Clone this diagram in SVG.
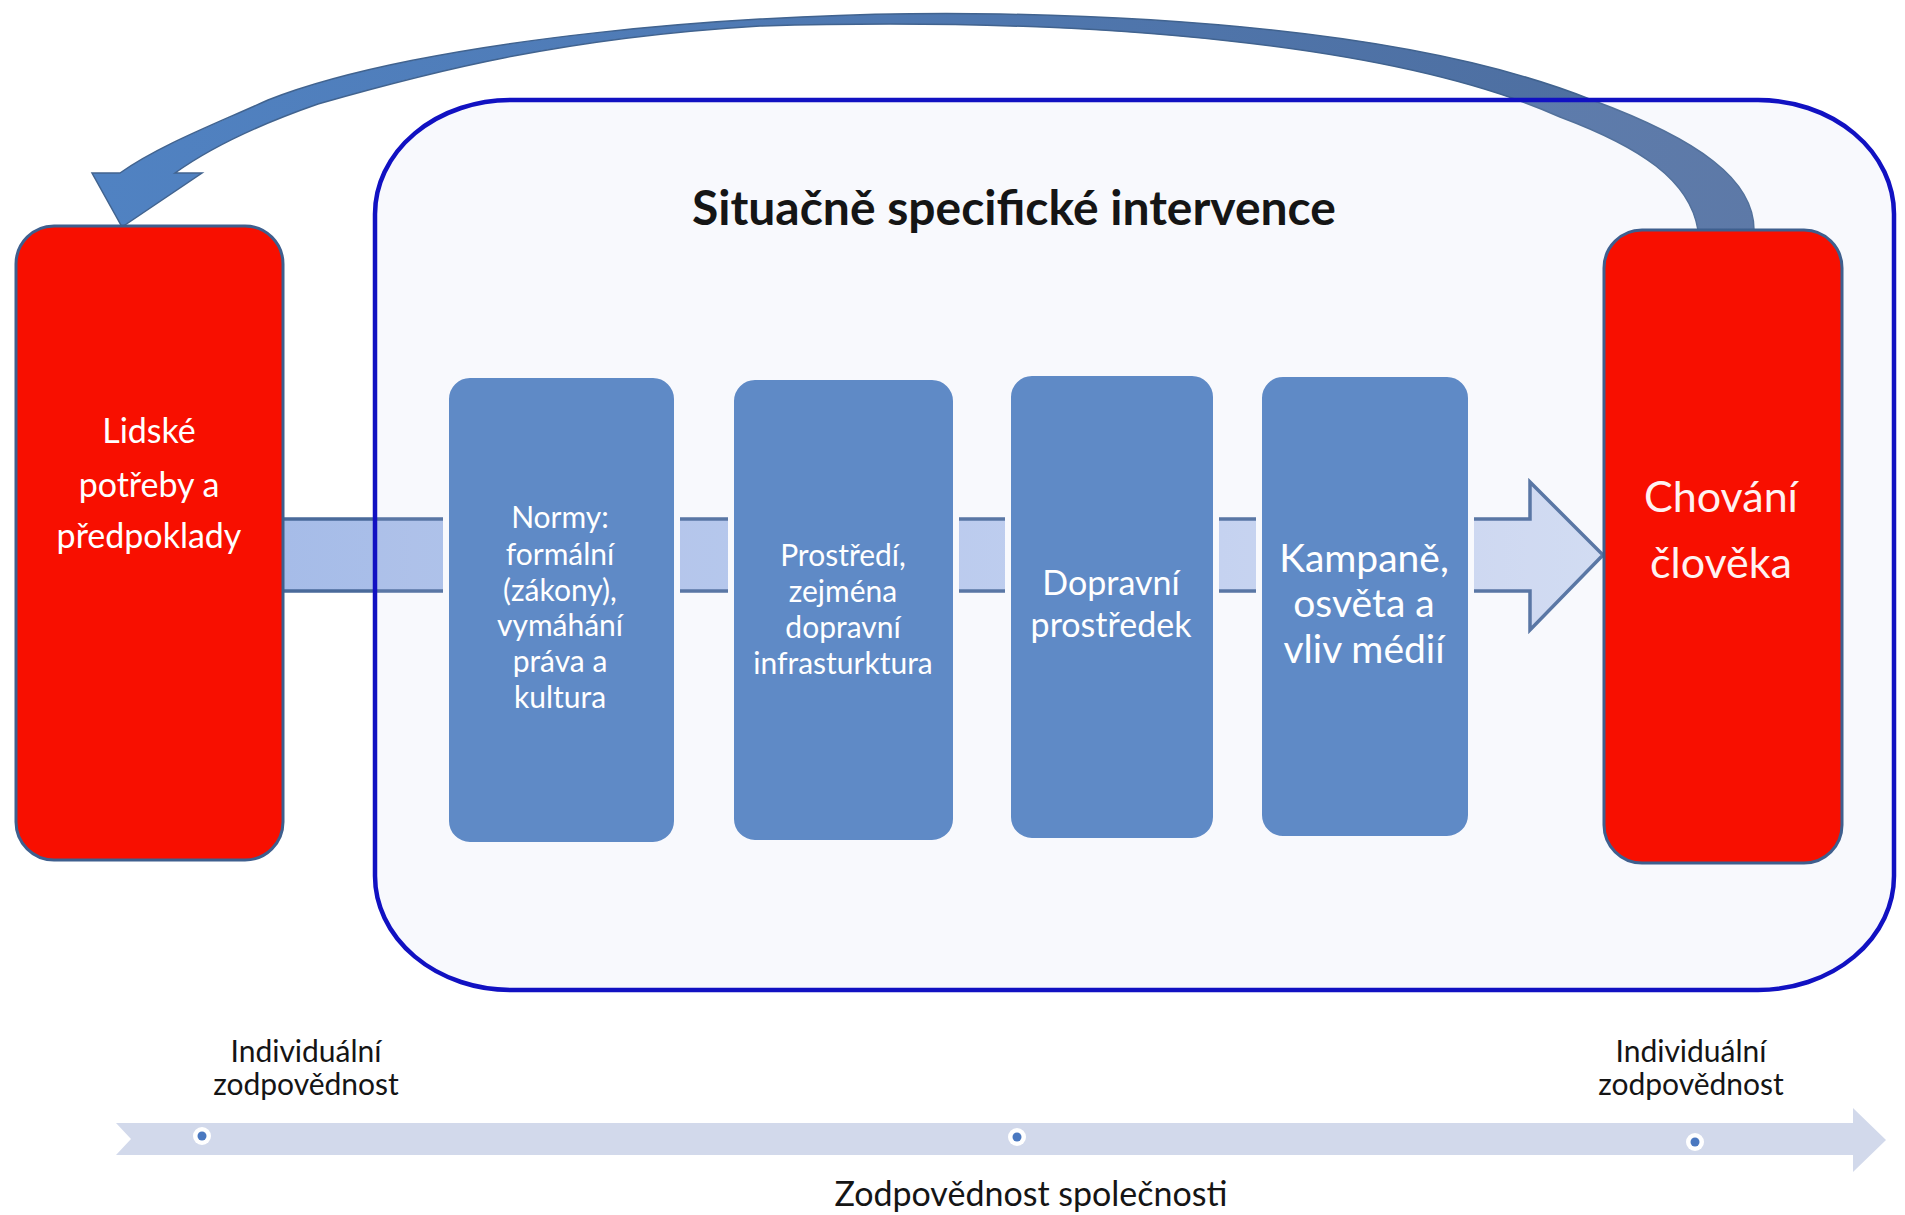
<svg xmlns="http://www.w3.org/2000/svg" width="1905" height="1215" viewBox="0 0 1905 1215">
  <defs>
    <linearGradient id="bandGrad" gradientUnits="userSpaceOnUse" x1="282" y1="0" x2="1603" y2="0">
      <stop offset="0" stop-color="#A6BCE8"/>
      <stop offset="0.5" stop-color="#BACBEE"/>
      <stop offset="1" stop-color="#D4DEF3"/>
    </linearGradient>
    <linearGradient id="curveGrad" gradientUnits="userSpaceOnUse" x1="100" y1="0" x2="1760" y2="0">
      <stop offset="0" stop-color="#5082C2"/>
      <stop offset="1" stop-color="#4E6D9D"/>
    </linearGradient>
  </defs>
  <style>
    .red { fill: #F80F00; stroke: #3E5F8E; stroke-width: 3; }
    .blue { fill: #5F8AC6; stroke: #F8F9FD; stroke-width: 6; }
    .txt { font-family: Lato, "Liberation Sans", sans-serif; text-anchor: middle; }
    .wt { fill: #FFFFFF; }
    .pk { fill: #FFF2F2; }
    .dk { fill: #151515; }
    .dotO { fill: #FFFFFF; }
    .dotI { fill: #4A78C0; }
  </style>
  <rect x="0" y="0" width="1905" height="1215" fill="#FFFFFF"/>

  <g id="connectors">
    <path id="feedback-arrow" fill="url(#curveGrad)" stroke="#41638F" stroke-width="1.5" stroke-linejoin="miter"
      d="M 1754,230 C 1754,180 1700,140 1592,100 C 1480,55 1300,20 1000,14 C 750,9 420,40 268,100 C 215,124 160,145 120,173 L 92,173 L 122,227 L 202,173 L 175,173 C 207,150 252,127 318,104 C 430,72 560,38 760,26 C 1100,16 1400,45 1560,117 C 1640,147 1690,180 1698,230 Z"/>
    <path id="flow-arrow" fill="url(#bandGrad)" stroke="#4A6A9A" stroke-width="3.5" stroke-linejoin="miter"
      d="M 270,519 H 1530 V 482 L 1603,555 L 1530,630 V 591 H 270 Z"/>
  </g>

  <g id="container">
    <rect x="375" y="100" width="1519" height="890" rx="136" ry="114" fill="#C8D2EE" fill-opacity="0.13" stroke="#1111C2" stroke-width="4.5"/>
    <text class="txt dk" x="1014" y="225" font-size="48" font-weight="bold">Situačně specifické intervence</text>
  </g>

  <g id="node-lidske">
    <rect class="red" x="16" y="226" width="267" height="634" rx="38" ry="38"/>
    <text class="txt wt" x="149" y="443" font-size="34">Lidské</text>
    <text class="txt wt" x="149" y="497" font-size="34">potřeby a</text>
    <text class="txt wt" x="149" y="548" font-size="34">předpoklady</text>
  </g>

  <g id="node-normy">
    <rect class="blue" x="446" y="375" width="231" height="470" rx="24" ry="24"/>
    <text class="txt wt" x="560" y="528" font-size="30">Normy:</text>
    <text class="txt wt" x="560" y="565" font-size="30">formální</text>
    <text class="txt wt" x="560" y="601" font-size="30">(zákony),</text>
    <text class="txt wt" x="560" y="636" font-size="30">vymáhání</text>
    <text class="txt wt" x="560" y="672" font-size="30">práva a</text>
    <text class="txt wt" x="560" y="708" font-size="30">kultura</text>
  </g>

  <g id="node-prostredi">
    <rect class="blue" x="731" y="377" width="225" height="466" rx="24" ry="24"/>
    <text class="txt wt" x="843" y="566" font-size="30">Prostředí,</text>
    <text class="txt wt" x="843" y="602" font-size="30">zejména</text>
    <text class="txt wt" x="843" y="638" font-size="30">dopravní</text>
    <text class="txt wt" x="843" y="674" font-size="30">infrasturktura</text>
  </g>

  <g id="node-dopravni">
    <rect class="blue" x="1008" y="373" width="208" height="468" rx="24" ry="24"/>
    <text class="txt wt" x="1111" y="595" font-size="34">Dopravní</text>
    <text class="txt wt" x="1111" y="637" font-size="34">prostředek</text>
  </g>

  <g id="node-kampane">
    <rect class="blue" x="1259" y="374" width="212" height="465" rx="24" ry="24"/>
    <text class="txt wt" x="1364" y="572" font-size="39">Kampaně,</text>
    <text class="txt wt" x="1364" y="617" font-size="39">osvěta a</text>
    <text class="txt wt" x="1364" y="663" font-size="39">vliv médií</text>
  </g>

  <g id="node-chovani">
    <rect class="red" x="1604" y="230" width="238" height="633" rx="38" ry="38"/>
    <text class="txt pk" x="1721" y="512" font-size="43">Chování</text>
    <text class="txt pk" x="1721" y="578" font-size="43">člověka</text>
  </g>

  <g id="timeline">
    <path fill="#D2D9EB" d="M 116,1123 H 1853 V 1108 L 1886,1140 L 1853,1172 V 1155 H 116 L 131,1139 Z"/>
    <circle class="dotO" cx="202" cy="1136" r="9"/>
    <circle class="dotI" cx="202" cy="1136" r="4.5"/>
    <circle class="dotO" cx="1017" cy="1137" r="9"/>
    <circle class="dotI" cx="1017" cy="1137" r="4.5"/>
    <circle class="dotO" cx="1695" cy="1142" r="9"/>
    <circle class="dotI" cx="1695" cy="1142" r="4.5"/>
    <text class="txt dk" x="306" y="1062" font-size="30">Individuální</text>
    <text class="txt dk" x="306" y="1095" font-size="30">zodpovědnost</text>
    <text class="txt dk" x="1691" y="1062" font-size="30">Individuální</text>
    <text class="txt dk" x="1691" y="1095" font-size="30">zodpovědnost</text>
    <text class="txt dk" x="1031" y="1206" font-size="34">Zodpovědnost společnosti</text>
  </g>
</svg>
